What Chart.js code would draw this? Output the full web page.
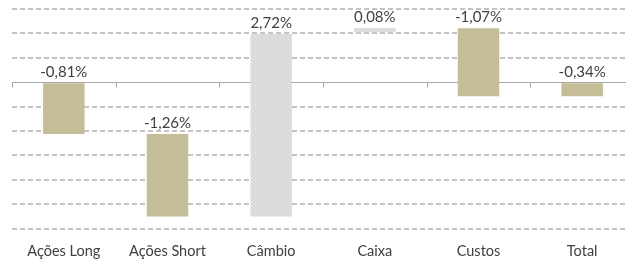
<!DOCTYPE html>
<html>
<head>
<meta charset="utf-8">
<script src="https://cdn.jsdelivr.net/npm/chart.js@4.4.0/dist/chart.umd.min.js"></script>
<style>
  html, body { margin: 0; padding: 0; background: #fff; overflow: hidden; }
  #wrap { width: 640px; height: 275px; }
</style>
</head>
<body>
<div id="wrap"><canvas id="myChart"></canvas></div>
<script>
// categories and values
const categories = ['Ações Long', 'Ações Short', 'Câmbio', 'Caixa', 'Custos', 'Total'];
const changeLabels = ['-0,81%', '-1,26%', '2,72%', '0,08%', '-1,07%', '-0,34%'];
// floating bar extents (in %), as drawn
const barStart = [0, -0.85, -2.20, 0.82, 0.885, 0];
const barEnd = [-0.85, -2.20, 0.79, 0.89, -0.23, -0.23];
const barKind = ['neg', 'neg', 'gray', 'gray', 'neg', 'neg'];
const yMin = -2.4, yMax = 1.2, yStep = 0.4;

// light speckled fill for the grey bars
function grayPattern() {
  const c = document.createElement('canvas');
  c.width = 4; c.height = 4;
  const g = c.getContext('2d');
  g.fillStyle = '#dedede'; g.fillRect(0, 0, 4, 4);
  g.fillStyle = '#cfcfcf';
  g.fillRect(0, 0, 1, 1); g.fillRect(2, 1, 1, 1); g.fillRect(1, 2, 1, 1); g.fillRect(3, 3, 1, 1);
  g.fillStyle = '#e8e8e8';
  g.fillRect(2, 0, 1, 1); g.fillRect(0, 3, 1, 1); g.fillRect(3, 2, 1, 1);
  return g.createPattern(c, 'repeat');
}
const pat = grayPattern();
const colors = barKind.map(k => k === 'gray' ? pat : '#c5bd98');

const zeroLine = {
  id: 'zeroLine',
  beforeDatasetsDraw(chart) {
    const ctx = chart.ctx, x = chart.scales.x, y = chart.scales.y;
    const y0 = Math.round(y.getPixelForValue(0)) + 0.5;
    const area = chart.chartArea;
    ctx.save();
    ctx.strokeStyle = '#a6a6a6';
    ctx.lineWidth = 1;
    ctx.beginPath();
    ctx.moveTo(area.left, y0);
    ctx.lineTo(area.right, y0);
    const half = (x.getPixelForValue(1) - x.getPixelForValue(0)) / 2;
    for (let i = 0; i <= categories.length; i++) {
      const px = Math.round(x.getPixelForValue(i) - half) + 0.5;
      ctx.moveTo(px, y0);
      ctx.lineTo(px, y0 + 5);
    }
    ctx.stroke();
    ctx.restore();
  }
};

const valueLabels = {
  id: 'valueLabels',
  afterDatasetsDraw(chart) {
    const ctx = chart.ctx;
    const meta = chart.getDatasetMeta(0);
    ctx.save();
    ctx.font = '15px Lato, "Liberation Sans", sans-serif';
    ctx.fillStyle = '#404040';
    ctx.textAlign = 'center';
    ctx.textBaseline = 'alphabetic';
    meta.data.forEach((bar, i) => {
      const top = Math.min(bar.y, bar.base);
      ctx.fillText(changeLabels[i], bar.x, top - 6);
    });
    ctx.restore();
  }
};

const ctx = document.getElementById('myChart').getContext('2d');
new Chart(ctx, {
  type: 'bar',
  data: {
    labels: categories,
    datasets: [{
      data: barStart.map((s, i) => [s, barEnd[i]]),
      backgroundColor: colors,
      borderWidth: 0,
      borderSkipped: false,
      barPercentage: 0.8,
      categoryPercentage: 0.5
    }]
  },
  options: {
    responsive: true,
    maintainAspectRatio: false,
    animation: false,
    layout: { padding: { left: 12, right: 6, top: 9, bottom: 0 } },
    plugins: { legend: { display: false }, tooltip: { enabled: false } },
    scales: {
      x: {
        grid: { display: false, drawTicks: false },
        border: { display: false },
        ticks: {
          color: '#404040',
          padding: 14.5,
          font: { family: 'Lato, "Liberation Sans", sans-serif', size: 14.5 }
        }
      },
      y: {
        min: yMin,
        max: yMax,
        ticks: { display: false, stepSize: yStep },
        border: { display: false, dash: [5, 3] },
        grid: {
          drawTicks: false,
          lineWidth: 2,
          color: c => Math.abs(c.tick.value) < 1e-9 ? 'rgba(0,0,0,0)' : '#c4c4c4'
        }
      }
    }
  },
  plugins: [zeroLine, valueLabels]
});
</script>
</body>
</html>
